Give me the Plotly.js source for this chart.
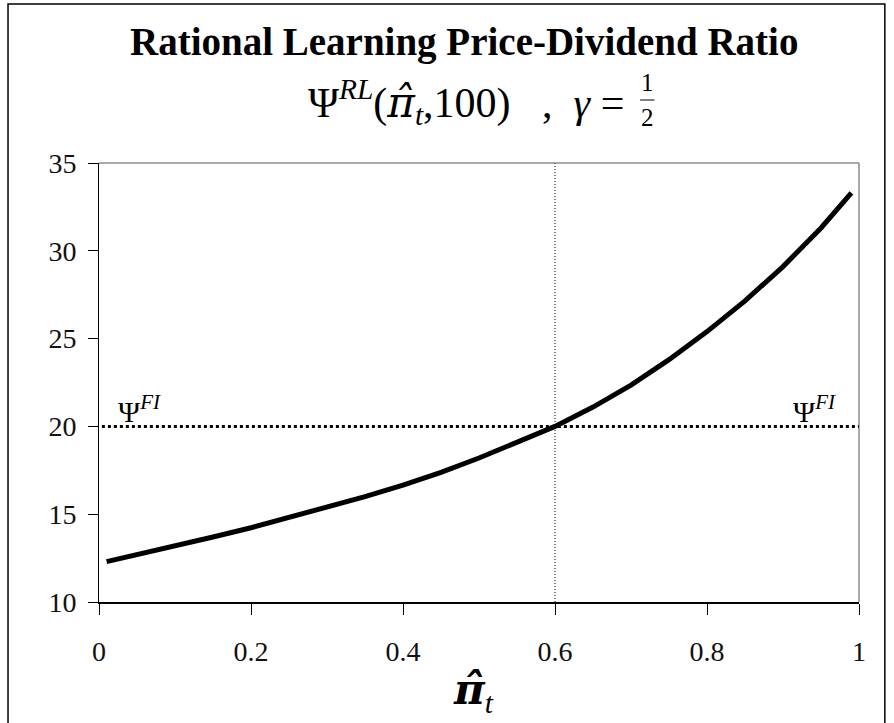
<!DOCTYPE html>
<html>
<head>
<meta charset="utf-8">
<script src="https://cdn.plot.ly/plotly-3.0.1.min.js"></script>
<style>
  body { margin: 0; background: #fff; }
  #chart { width: 894px; height: 723px; }
</style>
</head>
<body>
<div id="chart"></div>
<script>
// belief pi-hat and the price-dividend ratio
const piHat = [0.01, 0.05, 0.1, 0.15, 0.2, 0.25, 0.3, 0.35, 0.4, 0.45, 0.5,
               0.55, 0.6, 0.65, 0.7, 0.75, 0.8, 0.85, 0.9, 0.95, 0.99];
const psiRL = [12.3, 12.7, 13.15, 13.7, 14.23, 14.8, 15.38, 16.0, 16.65, 17.38, 18.2,
               19.1, 20.0, 21.1, 22.35, 23.8, 25.4, 27.15, 29.1, 31.3, 33.3];

// full information level
const fiX = [-0.012, 1.006];
const fiY = [20, 20];

// vertical marker
const markX = [0.6, 0.6];
const markY = [10, 35];

const xTicks = [0, 0.2, 0.4, 0.6, 0.8, 1];
const yTicks = [10, 15, 20, 25, 30, 35];

const serif = "Liberation Serif, Times New Roman, serif";
// hat over pi: DejaVu places the combining circumflex properly
const piHatTxt = '<span style="font-family:DejaVu Serif">π̂</span>';

const traces = [
  {
    x: fiX, y: fiY, mode: "lines", cliponaxis: false,
    line: {color: "#000", width: 3, dash: "3px,3px"}, hoverinfo: "skip"
  },
  {
    x: markX, y: markY, mode: "lines",
    line: {color: "#000", width: 1, dash: "1px,2px"}, hoverinfo: "skip"
  },
  {
    x: piHat, y: psiRL, mode: "lines",
    line: {color: "#000", width: 5}
  }
];

const layout = {
  width: 894,
  height: 723,
  margin: {l: 99, r: 35, t: 163, b: 121},
  paper_bgcolor: "#fff",
  plot_bgcolor: "#fff",
  showlegend: false,
  font: {family: serif, color: "#000", size: 28},
  xaxis: {
    range: [0, 1], tickvals: xTicks, ticktext: xTicks.map(String),
    showgrid: false, zeroline: false, showline: true, linecolor: "#000", linewidth: 2,
    ticks: "outside", ticklen: 11, tickcolor: "#000", tickwidth: 1,
    ticklabelstandoff: 12,
    tickfont: {family: serif, size: 28, color: "#111"}
  },
  yaxis: {
    range: [10, 35], tickvals: yTicks,
    showgrid: false, zeroline: false, showline: true, linecolor: "#000", linewidth: 1,
    ticks: "outside", ticklen: 10, tickcolor: "#000", tickwidth: 1,
    ticklabelstandoff: 6,
    tickfont: {family: serif, size: 28, color: "#111"}
  },
  shapes: [
    // top and right edge of plot area
    {type: "line", xref: "paper", yref: "paper", x0: 0, x1: 1, y0: 1, y1: 1, line: {color: "#555", width: 1}},
    {type: "line", xref: "paper", yref: "paper", x0: 1, x1: 1, y0: 0, y1: 1, line: {color: "#555", width: 1}},
    // outer frame
    {type: "rect", xref: "paper", yref: "paper", x0: -0.1197, x1: 1.034, y0: -0.3, y1: 1.362,
     line: {color: "#000", width: 1.5}},
    // fraction bar
    {type: "line", xref: "paper", yref: "paper", x0: 0.712, x1: 0.731, y0: 1.1435, y1: 1.1435,
     line: {color: "#000", width: 1}}
  ],
  annotations: [
    {text: "<b>Rational Learning Price-Dividend Ratio</b>", xref: "paper", yref: "paper",
     x: 0.48, y: 1.2756, xanchor: "center", yanchor: "middle", showarrow: false,
     font: {family: serif, size: 39}},
    {text: "Ψ<sup><i>RL</i></sup>(<i>" + piHatTxt + "</i><sub><i>t</i></sub>,100)   ,  <i>γ</i> = ",
     xref: "paper", yref: "paper",
     x: 0.708, y: 1.14, xanchor: "right", yanchor: "middle", showarrow: false,
     font: {family: serif, size: 42}},
    {text: "1", xref: "paper", yref: "paper", x: 0.7215, y: 1.147, xanchor: "center", yanchor: "bottom",
     showarrow: false, font: {family: serif, size: 25}},
    {text: "2", xref: "paper", yref: "paper", x: 0.7215, y: 1.14, xanchor: "center", yanchor: "top",
     showarrow: false, font: {family: serif, size: 25}},
    {text: "Ψ<sup><i>FI</i></sup>", x: 0.022, y: 19.8, xanchor: "left", yanchor: "bottom",
     showarrow: false, font: {family: serif, size: 30}},
    {text: "Ψ<sup><i>FI</i></sup>", x: 0.91, y: 19.8, xanchor: "left", yanchor: "bottom",
     showarrow: false, font: {family: serif, size: 30}},
    {text: "<b><i>" + piHatTxt + "</i></b><sub><i>t</i></sub>", xref: "paper", yref: "paper",
     x: 0.493, y: -0.205, xanchor: "center", yanchor: "middle", showarrow: false,
     font: {family: serif, size: 42}}
  ]
};

Plotly.newPlot("chart", traces, layout, {displayModeBar: false, staticPlot: true});
</script>
</body>
</html>
